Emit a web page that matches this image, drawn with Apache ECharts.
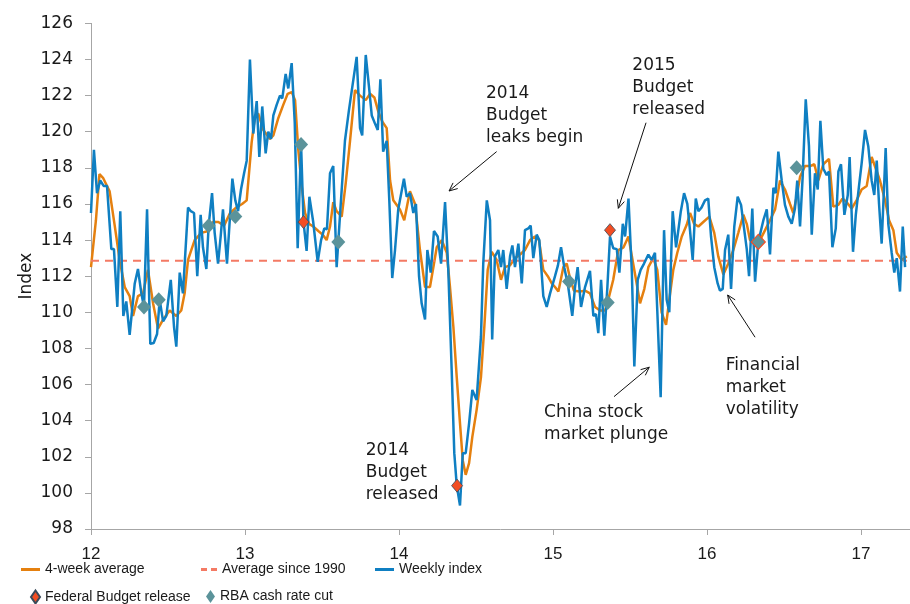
<!DOCTYPE html>
<html>
<head>
<meta charset="utf-8">
<script src="https://cdn.jsdelivr.net/npm/echarts@6/dist/echarts.min.js"></script>
<style>
html,body{margin:0;padding:0;background:#fff;}
#chart{width:910px;height:604px;}
</style>
</head>
<body>
<div id="chart"></div>
<script>
// ---- Data (x = year, e.g. 12.5 = mid-2012; y = index) ----
const xTickLabels = ['12','13','14','15','16','17'];
const yTicks = [98,100,102,104,106,108,110,112,114,116,118,120,122,124,126];

const weeklyIndex = [
[12.000,115.5],[12.019,119.0],[12.039,116.6],[12.060,117.3],[12.082,117.0],[12.104,117.0],[12.132,113.5],[12.149,113.5],
[12.171,110.3],[12.190,115.6],[12.210,109.8],[12.229,110.6],[12.251,108.75],[12.284,111.6],[12.305,112.4],[12.327,111.05],
[12.344,110.3],[12.364,115.7],[12.385,108.25],[12.407,108.3],[12.429,108.8],[12.446,110.7],[12.468,109.5],[12.489,109.8],
[12.518,111.8],[12.539,109.2],[12.554,108.1],[12.576,112.2],[12.597,111.05],[12.630,115.8],[12.648,115.6],[12.669,115.5],
[12.690,112.0],[12.712,115.4],[12.727,113.6],[12.749,112.4],[12.764,114.8],[12.786,116.6],[12.803,114.4],[12.825,112.7],
[12.842,114.2],[12.857,115.7],[12.883,112.7],[12.901,115.1],[12.918,117.4],[12.937,116.2],[12.955,115.6],[12.974,116.8],
[12.994,117.7],[13.011,118.4],[13.032,124.0],[13.054,119.9],[13.076,121.7],[13.093,118.6],[13.112,121.4],[13.134,118.8],
[13.151,120.0],[13.169,119.6],[13.184,120.9],[13.206,121.5],[13.227,122.0],[13.242,121.85],[13.264,123.2],[13.281,122.4],
[13.303,123.8],[13.323,120.5],[13.342,113.55],[13.364,119.3],[13.380,115.0],[13.400,113.4],[13.418,116.4],[13.443,115.0],
[13.472,112.8],[13.494,114.0],[13.515,114.65],[13.532,114.6],[13.552,117.7],[13.573,118.1],[13.595,112.5],[13.617,115.4],
[13.649,119.5],[13.675,121.2],[13.697,122.5],[13.725,124.15],[13.747,120.2],[13.761,119.8],[13.784,124.25],[13.805,122.5],
[13.823,120.9],[13.844,120.45],[13.862,120.1],[13.879,122.9],[13.897,118.9],[13.920,119.5],[13.937,116.2],[13.956,111.9],
[13.974,113.45],[13.995,115.7],[14.032,117.4],[14.050,116.4],[14.071,116.6],[14.093,115.5],[14.110,116.0],[14.130,112.0],
[14.147,110.5],[14.169,109.6],[14.184,113.45],[14.206,112.2],[14.227,114.5],[14.251,114.2],[14.273,112.7],[14.299,116.1],
[14.320,112.35],[14.342,106.8],[14.359,102.2],[14.375,100.4],[14.396,99.3],[14.414,102.2],[14.433,102.2],[14.455,103.85],
[14.476,105.7],[14.504,105.15],[14.532,108.65],[14.547,112.7],[14.570,116.2],[14.591,115.1],[14.605,108.5],[14.623,113.1],
[14.645,113.45],[14.662,112.5],[14.677,113.45],[14.699,111.3],[14.721,113.1],[14.736,113.7],[14.753,112.5],[14.775,113.8],
[14.797,111.6],[14.818,114.55],[14.840,114.65],[14.855,114.8],[14.872,113.0],[14.894,114.3],[14.911,114.0],[14.937,110.9],
[14.959,110.3],[14.981,111.05],[15.013,112.0],[15.032,112.6],[15.052,113.6],[15.073,112.5],[15.099,111.4],[15.125,109.8],
[15.143,111.4],[15.160,112.5],[15.182,110.3],[15.208,111.4],[15.240,112.3],[15.262,109.8],[15.279,109.9],[15.294,108.85],
[15.312,111.8],[15.333,108.7],[15.353,111.4],[15.370,114.2],[15.391,113.55],[15.414,113.5],[15.431,112.2],[15.453,114.9],
[15.468,114.2],[15.490,116.3],[15.512,112.2],[15.528,107.0],[15.550,111.8],[15.569,112.35],[15.591,112.7],[15.619,113.2],
[15.640,112.9],[15.662,113.3],[15.677,110.1],[15.699,105.3],[15.721,114.55],[15.738,110.7],[15.755,110.0],[15.777,115.6],
[15.799,113.6],[15.830,115.6],[15.851,116.6],[15.872,116.0],[15.890,114.5],[15.907,112.9],[15.927,116.3],[15.944,115.6],
[15.964,115.8],[15.987,116.2],[16.008,116.3],[16.026,114.2],[16.047,112.5],[16.069,111.6],[16.084,111.2],[16.102,111.3],
[16.117,113.45],[16.138,114.3],[16.156,111.3],[16.177,114.75],[16.199,116.4],[16.221,115.95],[16.242,114.55],[16.258,113.5],
[16.273,112.0],[16.294,115.75],[16.312,111.7],[16.333,113.9],[16.366,115.1],[16.388,115.7],[16.409,113.2],[16.431,116.9],
[16.446,116.6],[16.463,118.9],[16.485,117.3],[16.506,115.95],[16.528,115.3],[16.550,114.9],[16.571,115.75],[16.586,117.3],
[16.604,114.75],[16.621,117.5],[16.641,121.8],[16.662,119.2],[16.680,114.3],[16.701,117.7],[16.719,116.8],[16.736,120.6],
[16.755,117.95],[16.777,117.6],[16.792,117.8],[16.814,113.6],[16.836,114.65],[16.853,117.8],[16.870,118.2],[16.892,115.4],
[16.914,116.5],[16.926,118.6],[16.948,113.35],[16.966,115.4],[16.987,117.0],[17.004,118.25],[17.026,120.1],[17.047,119.2],
[17.069,117.3],[17.086,116.5],[17.102,118.4],[17.117,116.0],[17.134,113.8],[17.160,119.1],[17.177,114.9],[17.199,113.3],
[17.216,112.2],[17.232,113.0],[17.253,111.15],[17.271,114.75],[17.286,112.5]
];

const fourWeekAverage = [
[12.000,112.5],[12.032,115.1],[12.055,117.65],[12.078,117.45],[12.121,116.7],[12.154,114.8],[12.186,112.9],[12.219,111.4],
[12.251,110.9],[12.273,109.8],[12.305,110.9],[12.338,111.05],[12.370,112.35],[12.403,110.5],[12.435,109.1],[12.468,109.6],
[12.511,110.1],[12.554,109.8],[12.586,110.1],[12.608,111.05],[12.630,112.9],[12.673,114.0],[12.716,114.4],[12.761,114.5],
[12.792,115.0],[12.827,115.0],[12.864,114.8],[12.903,115.5],[12.942,115.8],[12.981,116.0],[13.011,116.2],[13.043,119.4],
[13.065,120.9],[13.086,121.0],[13.119,120.1],[13.162,119.6],[13.184,119.8],[13.216,120.75],[13.249,121.5],[13.277,122.1],
[13.303,122.2],[13.325,121.75],[13.346,119.0],[13.368,117.0],[13.390,115.5],[13.416,114.9],[13.443,114.75],[13.476,114.5],
[13.505,114.3],[13.530,114.0],[13.552,114.75],[13.573,116.1],[13.595,115.6],[13.628,115.3],[13.654,117.15],[13.682,119.5],
[13.714,122.3],[13.747,122.0],[13.784,121.75],[13.812,122.1],[13.840,121.9],[13.866,121.1],[13.892,120.55],[13.920,120.2],
[13.942,117.3],[13.963,116.2],[14.006,115.7],[14.034,115.1],[14.071,116.7],[14.104,116.0],[14.136,113.45],[14.169,111.4],
[14.201,111.4],[14.223,112.5],[14.245,113.6],[14.277,114.0],[14.310,113.3],[14.331,111.4],[14.353,109.2],[14.375,106.4],
[14.396,103.85],[14.414,101.8],[14.433,101.0],[14.455,101.65],[14.476,103.1],[14.504,104.6],[14.532,106.4],[14.554,109.2],
[14.576,112.35],[14.602,113.35],[14.634,112.9],[14.662,111.8],[14.688,112.5],[14.721,112.6],[14.753,113.0],[14.786,113.2],
[14.818,113.45],[14.851,114.0],[14.883,114.2],[14.909,114.0],[14.937,112.35],[14.966,112.0],[14.992,111.6],[15.013,111.4],
[15.035,111.15],[15.067,112.5],[15.089,112.7],[15.110,111.9],[15.136,111.2],[15.175,111.15],[15.208,111.2],[15.240,111.05],
[15.273,110.3],[15.305,110.1],[15.338,110.1],[15.359,110.7],[15.391,111.8],[15.424,113.45],[15.458,113.6],[15.490,114.2],
[15.512,113.1],[15.539,111.8],[15.565,110.5],[15.593,111.3],[15.619,112.5],[15.651,113.0],[15.677,112.35],[15.705,110.0],
[15.734,109.3],[15.755,110.7],[15.781,112.35],[15.807,113.3],[15.836,114.2],[15.868,114.85],[15.890,115.5],[15.916,114.9],
[15.944,114.75],[15.976,115.0],[16.015,115.3],[16.047,114.4],[16.073,113.1],[16.106,112.1],[16.138,112.7],[16.171,113.45],
[16.203,114.4],[16.236,115.4],[16.258,114.9],[16.279,114.0],[16.312,113.8],[16.344,114.0],[16.377,114.55],[16.409,115.1],
[16.442,115.7],[16.474,117.3],[16.506,116.8],[16.539,116.0],[16.560,115.5],[16.582,116.4],[16.604,117.5],[16.636,118.1],
[16.669,118.1],[16.697,118.2],[16.723,117.3],[16.755,118.2],[16.792,118.5],[16.820,115.85],[16.853,115.95],[16.879,116.3],
[16.907,116.1],[16.939,115.75],[16.971,116.2],[17.004,116.8],[17.037,117.0],[17.069,118.6],[17.096,117.95],[17.123,117.3],
[17.156,116.2],[17.182,115.1],[17.210,114.55],[17.232,113.3],[17.264,112.9],[17.297,113.1]
];

const averageSince1990 = 112.85;

const budgetReleases = [[13.380,115.0],[14.377,100.4],[15.370,114.55],[16.333,113.9]];
const rbaCuts = [[12.344,110.3],[12.440,110.7],[12.764,114.8],[12.937,115.3],[13.364,119.3],
                 [13.606,113.9],[15.104,111.7],[15.355,110.55],[16.333,113.9],[16.582,118.0]];

// annotations: text lines, anchor (year,value) of top-left, optional arrow from->to
const annotations = [
  {lines:['2014','Budget','leaks begin'], at:[14.565,122.7], arrow:[[14.634,118.9],[14.325,116.72]]},
  {lines:['2015','Budget','released'], at:[15.515,124.3], arrow:[[15.604,120.5],[15.424,115.76]]},
  {lines:['2014','Budget','released'], at:[13.784,102.96], arrow:null},
  {lines:['China stock','market plunge'], at:[14.942,105.04], arrow:[[15.396,105.33],[15.625,106.96]]},
  {lines:['Financial','market','volatility'], at:[16.121,107.67], arrow:[[16.312,108.62],[16.134,110.96]]}
];

// ---- Chart ----
const X_MIN = 12, X_MAX = 17.318;
const BLUE = '#0f7fc2', ORANGE = '#e5800f', DASH = '#f47a64', RED = '#f24d22', TEAL = '#5b939a';
const AXIS = '#a6a6a6';
const MAIN_FONT = "'DejaVu Sans', Verdana, sans-serif";
const LEG_FONT = "'Liberation Sans', Arial, sans-serif";

const chart = echarts.init(document.getElementById('chart'), null, {renderer:'canvas'});

const legendText = {fontFamily: LEG_FONT, fontSize: 14, color: '#1a1a1a'};
function lg(name, left, top, w, h, icon) {
  return {data:[{name:name, icon:icon}], left:left, top:top, itemWidth:w, itemHeight:h, itemGap:0,
          padding:0, textStyle:legendText, selectedMode:false};
}
const SOLID_ICON = 'rect';
const DASH_ICON = 'path://M0,0h6v3h-6z M10,0h6v3h-6z';

// mark RBA cut that coincides with a budget release with a red outline
const rbaData = rbaCuts.map(p => {
  const same = budgetReleases.some(b => Math.abs(b[0]-p[0]) < 0.005);
  return same ? {value:p, itemStyle:{borderColor: RED, borderWidth:1.2}} : p;
});

const option = {
  animation: false,
  backgroundColor: '#fff',
  grid: {left: 91, right: 0, top: 23.4, bottom: 75},
  legend: [
    lg('4-week average', 21, 562.5, 19, 3, SOLID_ICON),
    lg('Average since 1990', 201, 562.5, 16, 3, DASH_ICON),
    lg('Weekly index', 375, 562.5, 19, 3, SOLID_ICON),
    lg('Federal Budget release', 30, 589.5, 9, 13, 'diamond'),
    lg('RBA cash rate cut', 206, 589.5, 9, 13, 'diamond')
  ],
  xAxis: {
    type: 'value', min: X_MIN, max: X_MAX, interval: 1,
    splitLine: {show:false},
    axisLine: {show:true, lineStyle:{color: AXIS, width:1}},
    axisTick: {show:true, length:6, lineStyle:{color: AXIS}, customValues:[12,13,14,15,16,17]},
    axisLabel: {fontFamily: LEG_FONT, fontSize: 17, color:'#1a1a1a', margin: 17,
                customValues:[12,13,14,15,16,17],
                formatter: v => { const i = Math.round(v) - 12; return xTickLabels[i] !== undefined && Math.abs(v - Math.round(v)) < 1e-6 ? xTickLabels[i] : ''; }}
  },
  yAxis: {
    type: 'value', min: 98, max: 126, interval: 2,
    name: 'Index', nameLocation: 'middle', nameGap: 56, nameRotate: 90, nameMoveOverlap: false,
    nameTextStyle: {fontFamily: MAIN_FONT, fontSize: 17, color:'#1a1a1a'},
    splitLine: {show:false},
    axisLine: {show:true, lineStyle:{color: AXIS, width:1}},
    axisTick: {show:true, length:6, lineStyle:{color: AXIS}},
    axisLabel: {fontFamily: MAIN_FONT, fontSize: 17, color:'#1a1a1a', margin: 18,
                formatter: v => yTicks.indexOf(v) >= 0 ? String(v) : ''}
  },
  series: [
    {name:'4-week average', type:'line', data: fourWeekAverage, symbol:'none',
     lineStyle:{color: ORANGE, width: 2.5}, itemStyle:{color: ORANGE}, z: 2},
    {name:'Average since 1990', type:'line', data: [[X_MIN, averageSince1990],[X_MAX - 0.02, averageSince1990]],
     symbol:'none', lineStyle:{color: DASH, width: 2, type:[8,6]}, itemStyle:{color: DASH}, z: 3},
    {name:'Weekly index', type:'line', data: weeklyIndex, symbol:'none',
     lineStyle:{color: BLUE, width: 2.5}, itemStyle:{color: BLUE}, z: 4},
    {name:'Federal Budget release', type:'scatter', data: budgetReleases, symbol:'diamond', symbolSize:[11,13],
     itemStyle:{color: RED, borderColor:'#3a4a5a', borderWidth:0.8, opacity:1}, z: 5},
    {name:'RBA cash rate cut', type:'scatter', data: rbaData, symbol:'diamond', symbolSize:[14,15],
     itemStyle:{color: TEAL, opacity:1}, z: 6}
  ]
};
chart.setOption(option);

// annotations placed through the axes' own scales
function buildGraphics() {
  const els = [];
  const LH = 22;
  annotations.forEach(a => {
    const p = chart.convertToPixel({gridIndex:0}, a.at);
    els.push({type:'text', x:p[0], y:p[1], z:10,
      style:{text:a.lines.join('\n'), fill:'#1a1a1a', font:"17px " + MAIN_FONT, lineHeight:LH,
             textAlign:'left', textVerticalAlign:'top'}});
    if (a.arrow) {
      const s = chart.convertToPixel({gridIndex:0}, a.arrow[0]);
      const e = chart.convertToPixel({gridIndex:0}, a.arrow[1]);
      const ang = Math.atan2(e[1]-s[1], e[0]-s[0]);
      const L = 9, A = 0.42;
      const h1 = [e[0] - L*Math.cos(ang - A), e[1] - L*Math.sin(ang - A)];
      const h2 = [e[0] - L*Math.cos(ang + A), e[1] - L*Math.sin(ang + A)];
      els.push({type:'line', z:10, shape:{x1:s[0], y1:s[1], x2:e[0], y2:e[1]}, style:{stroke:'#111', lineWidth:1}});
      els.push({type:'polyline', z:10, shape:{points:[h1, e, h2]}, style:{stroke:'#111', lineWidth:1, fill:null}});
    }
  });
  return els;
}
chart.setOption({graphic: buildGraphics()});
</script>
</body>
</html>
